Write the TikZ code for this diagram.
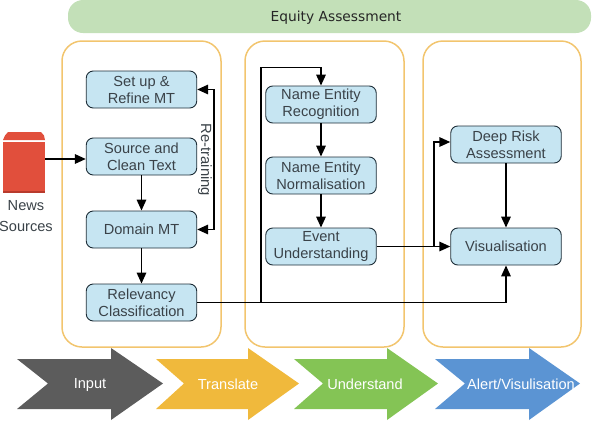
\documentclass[tikz,border=0pt]{standalone}
\usepackage{fontspec}
\setmainfont{Liberation Sans}
\newfontfamily\eqfont{DejaVu Sans}
\usetikzlibrary{arrows.meta}
\definecolor{boxfill}{HTML}{C6E5F2}
\definecolor{boxline}{HTML}{1E2E38}
\definecolor{txt}{HTML}{3A4248}
\definecolor{panelc}{HTML}{F2C56E}
\definecolor{eqfill}{HTML}{C3E0B8}
\definecolor{newsred}{HTML}{E14F3C}
\definecolor{newsdark}{HTML}{B83A2C}
\definecolor{cinput}{HTML}{5C5C5C}
\definecolor{ctrans}{HTML}{F0B93C}
\definecolor{cunder}{HTML}{84C455}
\definecolor{calert}{HTML}{5B94D3}
\tikzset{
  x=1pt,y=-1pt,
  stepbox/.style={draw=boxline,line width=0.9pt,fill=boxfill,rounded corners=7pt,
    minimum width=110.5pt,minimum height=37pt,inner sep=0pt,align=center,text=txt,
    font=\fontsize{14.6}{17}\selectfont,execute at begin node=\vspace{1.4pt}},
  panel/.style={draw=panelc,line width=1.5pt,rounded corners=20pt,minimum height=306pt,inner sep=0pt},
  flow/.style={line width=1.7pt,draw=black,-{Triangle[length=11pt,width=9.5pt]}},
  chevlabel/.style={text=white,font=\fontsize{14.6}{17}\selectfont,inner sep=0pt},
  plainlabel/.style={text=txt,font=\fontsize{14.6}{21}\selectfont,align=center,inner sep=0pt},
}
\begin{document}
\begin{tikzpicture}
\useasboundingbox (0,0) rectangle (592,421);
% banner
\node[fill=eqfill,rounded corners=15pt,minimum width=523pt,minimum height=33pt,inner sep=0pt] (equity) at (329.5,16.5) {};
\node[font=\eqfont\fontsize{13.8}{16}\selectfont,text=black!85,inner sep=0pt] (equitylabel) at (336,17.3) {Equity Assessment};
% panels
\node[panel,minimum width=159pt] (p1) at (141.5,194) {};
\node[panel,minimum width=159pt] (p2) at (324.5,194) {};
\node[panel,minimum width=158pt] (p3) at (502,194) {};
% news icon
\fill[newsred] (3,140) -- (5,135.5) -- (8,132) -- (41,132) -- (44,135.5) -- (45,140) -- cycle;
\fill[newsred] (3,142) rectangle (45,191);
\fill[newsdark] (3,191) rectangle (45,193);
\coordinate (news) at (45,159);
\node[plainlabel] (newslabel) at (26,216.5) {News\\Sources};
% boxes
\node[stepbox] (setup) at (141.5,89.5) {Set up \&\\Refine MT};
\node[stepbox] (source) at (141.5,156.5) {Source and\\Clean Text};
\node[stepbox] (domain) at (141.5,229.5) {Domain MT};
\node[stepbox] (relev) at (141.5,302.5) {Relevancy\\Classification};
\node[stepbox] (ner) at (321,104.5) {Name Entity\\Recognition};
\node[stepbox] (nen) at (321,175.5) {Name Entity\\Normalisation};
\node[stepbox] (event) at (321,246.5) {Event\\Understanding};
\node[stepbox] (deep) at (506,144.5) {Deep Risk\\Assessment};
\node[stepbox] (vis) at (506,246.5) {Visualisation};
% connectors
\draw[flow] (news) -- (news -| source.west);
\draw[flow] (source) -- (domain);
\draw[flow] (domain) -- (relev);
\coordinate (rt) at (214,160);
\draw[line width=1.7pt,{Triangle[length=11pt,width=9.5pt]}-{Triangle[length=11pt,width=9.5pt]}]
  (setup.east) -| (rt) |- (domain.east);
\node[plainlabel,rotate=-90,font=\fontsize{14.8}{17}\selectfont] (retrain) at (205,160) {Re-training};
\draw[flow] (relev.east) -| (vis.south);
\coordinate (b1) at (261,302.5);
\coordinate (b1top) at (261,67.5);
\draw[flow] (b1) -- (b1top) -| (ner.north);
\draw[flow] (ner) -- (nen);
\draw[flow] (nen) -- (event);
\draw[flow] (event) -- (vis);
\coordinate (b2) at (434,246.5);
\coordinate (b2top) at (434,142);
\draw[flow] (b2) -- (b2top) -- (b2top -| deep.west);
\draw[flow] (deep) -- (vis);
% process arrows
\fill[cinput] (17,359) -- (111,359) -- (111,348) -- (163,383.5) -- (111,420) -- (111,409) -- (17,409) -- (48,383.5) -- cycle;
\fill[ctrans] (156,359) -- (248,359) -- (248,348) -- (299,383.5) -- (248,420) -- (248,409) -- (156,409) -- (184,383.5) -- cycle;
\fill[cunder] (294,359) -- (387,359) -- (387,348) -- (438,383.5) -- (387,420) -- (387,409) -- (294,409) -- (323,383.5) -- cycle;
\fill[calert] (435,359) -- (529,359) -- (529,348) -- (580,383.5) -- (529,420) -- (529,409) -- (435,409) -- (465,383.5) -- cycle;
\node[chevlabel] (linput) at (90,384.7) {Input};
\node[chevlabel] (ltrans) at (228,384.7) {Translate};
\node[chevlabel] (lunder) at (365,384.7) {Understand};
\node[chevlabel] (lalert) at (521,384.7) {Alert/Visulisation};
\end{tikzpicture}
\end{document}
